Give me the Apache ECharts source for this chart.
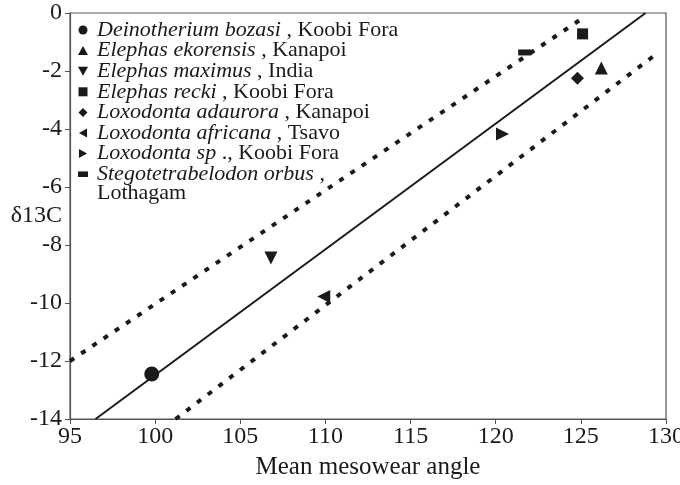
<!DOCTYPE html>
<html>
<head>
<meta charset="utf-8">
<script src="https://cdn.jsdelivr.net/npm/echarts@6/dist/echarts.min.js"></script>
<style>
  html, body { margin: 0; padding: 0; background: #fff; }
  #chart { width: 680px; height: 485px; }
</style>
</head>
<body>
<div id="chart"></div>
<script>
// species (italic part of the legend) and their locality text
const species = [
  "Deinotherium bozasi",
  "Elephas ekorensis",
  "Elephas maximus",
  "Elephas recki",
  "Loxodonta adaurora",
  "Loxodonta africana",
  "Loxodonta sp",
  "Stegotetrabelodon orbus",
];
const localities = [
  " , Koobi Fora",
  " , Kanapoi",
  " , India",
  " , Koobi Fora",
  " , Kanapoi",
  " , Tsavo",
  " ., Koobi Fora",
  " ,",
];
// mean mesowear angle and delta 13C per species
const mesowear = [99.8, 126.2, 106.8, 125.1, 124.8, 109.9, 120.4, 121.7];
const d13c = [-12.45, -1.9, -8.45, -0.72, -2.25, -9.78, -4.17, -1.36];

// regression line and its two dotted bounds (end points)
const fitX = [96.5, 128.8];
const fitY = [-14, 0];
const upperX = [95, 125.3];
const upperY = [-12, -0.1];
const lowerX = [101.2, 129.55];
const lowerY = [-14, -1.36];

const xTicks = [95, 100, 105, 110, 115, 120, 125, 130];
const yTicks = [-14, -12, -10, -8, -6, -4, -2, 0];

// marker look per species (paths so the legend keeps their shape)
const symbols = [
  "path://M5,0 A5,5 0 1,1 5,10 A5,5 0 1,1 5,0 Z",
  "path://M5,0 L10,9 L0,9 Z",
  "path://M0,0 L10,0 L5,9 Z",
  "path://M0,0 L10,0 L10,10 L0,10 Z",
  "path://M5,0 L10,5 L5,10 L0,5 Z",
  "path://M0,5 L9,0 L9,10 Z",
  "path://M0,0 L9,5 L0,10 Z",
  "path://M0,0 L9,0 L9,5 L0,5 Z",
];
const sizes = [15, 13, 13, 11, 13, 13, 13, [13, 6]];

const font = "'Liberation Serif', 'Times New Roman', serif";
const ink = "#1a1a1a";
const frame = "#555";

const pair = (xs, ys) => xs.map((x, i) => [x, ys[i]]);

const chart = echarts.init(document.getElementById("chart"));

const pointSeries = species.map((name, i) => ({
  name: name,
  type: "scatter",
  symbol: symbols[i],
  symbolSize: sizes[i],
  itemStyle: { color: ink, opacity: 1 },
  z: 5,
  data: [[mesowear[i], d13c[i]]],
}));

const lineSeries = [
  { id: "fit", data: pair(fitX, fitY), type: "solid", width: 2 },
  { id: "upper", data: pair(upperX, upperY), type: [5, 8.5], width: 4 },
  { id: "lower", data: pair(lowerX, lowerY), type: [5, 8.5], width: 4 },
].map((l) => ({
  id: l.id,
  type: "line",
  data: l.data,
  symbol: "none",
  silent: true,
  z: 2,
  lineStyle: { color: ink, width: l.width, type: l.type, cap: "butt" },
}));

chart.setOption({
  backgroundColor: "#fff",
  animation: false,
  grid: {
    left: 70,
    right: 14,
    top: 13,
    bottom: 66,
    containLabel: false,
    outerBoundsMode: "none",
    show: true,
    borderColor: frame,
    borderWidth: 1.2,
  },
  legend: {
    data: species,
    orient: "vertical",
    left: 78,
    top: 19,
    itemWidth: 10,
    itemHeight: 9,
    itemGap: -1.4,
    padding: 0,
    formatter: (name) =>
      "{i|" + name + "}{n|" + localities[species.indexOf(name)] + "}",
    textStyle: {
      color: ink,
      rich: {
        i: { fontFamily: font, fontSize: 22, fontStyle: "italic", color: ink, lineHeight: 20, padding: [0, 0, 0, 4] },
        n: { fontFamily: font, fontSize: 22, color: ink, lineHeight: 20 },
      },
    },
  },
  graphic: [
    {
      type: "text",
      left: 97,
      top: 182,
      style: { text: "Lothagam", font: "22px " + font, fill: ink },
    },
  ],
  xAxis: {
    type: "value",
    min: 95,
    max: 130,
    interval: 5,
    name: "Mean mesowear angle",
    nameLocation: "middle",
    nameGap: 36,
    nameTextStyle: { fontFamily: font, fontSize: 25, color: ink },
    axisLine: { onZero: false, lineStyle: { color: frame, width: 1.2 } },
    axisTick: { show: true, length: 5, lineStyle: { color: frame } },
    axisLabel: {
      fontFamily: font,
      fontSize: 24,
      color: ink,
      margin: 6,
      formatter: (v) => (xTicks.includes(v) ? String(v) : ""),
    },
    splitLine: { show: false },
  },
  yAxis: {
    type: "value",
    min: -14,
    max: 0,
    interval: 2,
    name: "δ13C",
    nameLocation: "middle",
    nameRotate: 0,
    nameGap: 8,
    nameMoveOverlap: false,
    nameTextStyle: { fontFamily: font, fontSize: 24, color: ink, padding: [6, 0, 0, 0] },
    axisLine: { onZero: false, lineStyle: { color: frame, width: 1.2 } },
    axisTick: { show: true, length: 5, lineStyle: { color: frame } },
    axisLabel: {
      fontFamily: font,
      fontSize: 24,
      color: ink,
      margin: 8,
      formatter: (v) => (yTicks.includes(v) ? String(v) : ""),
    },
    splitLine: { show: false },
  },
  series: lineSeries.concat(pointSeries),
});
</script>
</body>
</html>
